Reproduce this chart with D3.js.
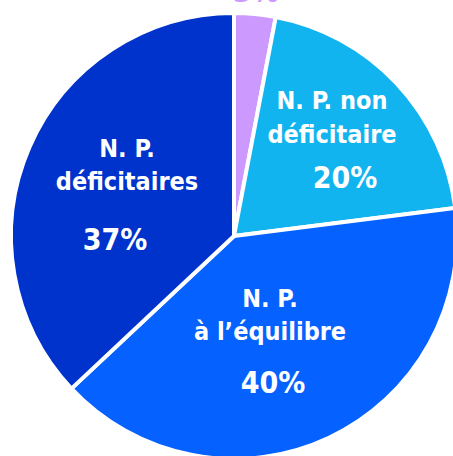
<!DOCTYPE html>
<html>
<head>
<meta charset="utf-8">
<script src="https://cdn.jsdelivr.net/npm/d3@7"></script>
<style>
  body { margin: 0; background: #fff; overflow: hidden; }
  text { font-family: "DejaVu Sans Condensed", "DejaVu Sans", sans-serif; font-weight: bold; fill: #fff; }
</style>
</head>
<body>
<script>
var categories = ["Autres", "N. P. non déficitaire", "N. P. à l’équilibre", "N. P. déficitaires"];
var values = [3, 20, 40, 37];
var colors = ["#cc99ff", "#12b4f0", "#0561ff", "#0033cc"];
// label lines for each slice
var labelLines = [[], ["N. P. non", "déficitaire"], ["N. P.", "à l’équilibre"], ["N. P.", "déficitaires"]];
var pctLabels = ["3%", "20%", "40%", "37%"];

var width = 453, height = 456,
    cx = 234, cy = 236, radius = 223;

var svg = d3.select("body").append("svg")
    .attr("width", width)
    .attr("height", height);

var g = svg.append("g")
    .attr("transform", "translate(" + cx + "," + cy + ")");

var pie = d3.pie().sort(null).value(function(d) { return d; });
var arc = d3.arc().innerRadius(0).outerRadius(radius);
var arcs = pie(values);

g.selectAll("path")
    .data(arcs)
    .enter()
    .append("path")
    .attr("d", arc)
    .style("fill", function(d, i) { return colors[i]; })
    .style("stroke", "#fff")
    .style("stroke-width", 4)
    .style("stroke-linejoin", "round");

// label placement, relative to pie center
var labelPos = [
    {x: 22, lines: [], pct: -234},
    {x: 98, lines: [-127, -93], pctX: 111, pct: -48},
    {x: 36, lines: [71, 104], pctX: 39, pct: 157},
    {x: -107, lines: [-79, -46], pctX: -119, pct: 14}
];

arcs.forEach(function(d, i) {
    var p = labelPos[i];
    labelLines[i].forEach(function(line, j) {
        g.append("text")
            .attr("x", p.x)
            .attr("y", p.lines[j])
            .attr("text-anchor", "middle")
            .style("font-size", "25px")
            .text(line);
    });
    g.append("text")
        .attr("x", i === 0 ? p.x : p.pctX)
        .attr("y", p.pct)
        .attr("text-anchor", "middle")
        .style("font-size", "30px")
        .style("fill", i === 0 ? colors[0] : "#fff")
        .text(pctLabels[i]);
});
</script>
</body>
</html>
